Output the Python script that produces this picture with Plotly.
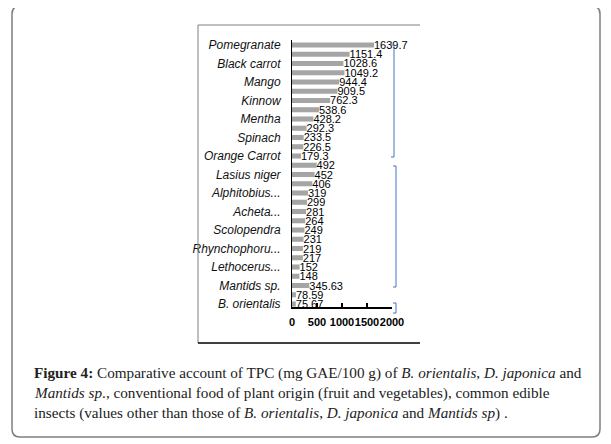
import plotly.graph_objects as go

# Top-to-bottom order; only every other label is shown in the chart
labels = ["Pomegranate", "", "Black carrot", "", "Mango", "", "Kinnow", "",
          "Mentha", "", "Spinach", "", "Orange Carrot", "", "Lasius niger", "",
          "Alphitobius...", "", "Acheta...", "", "Scolopendra", "",
          "Rhynchophoru...", "", "Lethocerus...", "", "Mantids sp.", "",
          "B. orientalis"]
values = [1639.7, 1151.4, 1028.6, 1049.2, 944.4, 909.5, 762.3, 538.6,
          428.2, 292.3, 233.5, 226.5, 179.3, 492, 452, 406,
          319, 299, 281, 264, 249, 231,
          219, 217, 152, 148, 345.63, 78.59,
          75.67]
value_text = ["1639.7", "1151.4", "1028.6", "1049.2", "944.4", "909.5", "762.3", "538.6",
              "428.2", "292.3", "233.5", "226.5", "179.3", "492", "452", "406",
              "319", "299", "281", "264", "249", "231",
              "219", "217", "152", "148", "345.63", "78.59",
              "75.67"]
x_ticks = [0, 500, 1000, 1500, 2000]

n = len(values)
ypos = [n - 1 - i for i in range(n)]

# page has an 8px body margin; figure is sized so that it fills the window
W, H = 603, 436
L, R, T, B = 284, 219, 32, 137


def px(x):  # window pixel -> paper x
    return (x - 8 - L) / (W - L - R)


def py(y):  # window pixel -> paper y
    return (H - B - (y - 8)) / (H - T - B)


narrow = "Liberation Sans Narrow, Arial Narrow, Liberation Sans, Arial"

fig = go.Figure()
fig.add_trace(go.Bar(
    x=values, y=ypos, orientation="h",
    marker=dict(color="#A5A5A5", line=dict(width=0)),
    width=0.55,
    text=value_text, textposition="outside", constraintext="none",
    cliponaxis=False,
    textfont=dict(family=narrow, size=11, color="#000000"),
    showlegend=False,
))

shapes = []
# outer rounded border
x0, x1, y0, y1, r = 12, 600, 6, 437, 8
path = (f"M {px(x0 + r)} {py(y0)} L {px(x1 - r)} {py(y0)} "
        f"Q {px(x1)} {py(y0)} {px(x1)} {py(y0 + r)} L {px(x1)} {py(y1 - r)} "
        f"Q {px(x1)} {py(y1)} {px(x1 - r)} {py(y1)} L {px(x0 + r)} {py(y1)} "
        f"Q {px(x0)} {py(y1)} {px(x0)} {py(y1 - r)} L {px(x0)} {py(y0 + r)} "
        f"Q {px(x0)} {py(y0)} {px(x0 + r)} {py(y0)} Z")
shapes.append(dict(type="path", xref="paper", yref="paper", path=path,
                   line=dict(color="#7f7f7f", width=1.5)))
# inner chart frame
shapes.append(dict(type="line", xref="paper", yref="paper", x0=px(198), x1=px(420), y0=py(25), y1=py(25),
                   line=dict(color="#808080", width=1)))
shapes.append(dict(type="line", xref="paper", yref="paper", x0=px(198), x1=px(198), y0=py(25), y1=py(343),
                   line=dict(color="#808080", width=1)))
shapes.append(dict(type="line", xref="paper", yref="paper", x0=px(198), x1=px(420), y0=py(343), y1=py(343),
                   line=dict(color="#000000", width=1.5)))
# brackets
for bx, by0, by1 in [(394, 45, 157), (396, 166, 287), (396, 303, 313)]:
    p = (f"M {px(bx - 3)} {py(by0)} L {px(bx)} {py(by0)} L {px(bx)} {py(by1)} L {px(bx - 3)} {py(by1)}")
    shapes.append(dict(type="path", xref="paper", yref="paper", path=p,
                       line=dict(color="#4472C4", width=1)))

cap_font = dict(family="Liberation Serif, Times New Roman, serif", size=15.2, color="#222222")
caption = [
    "<b>Figure 4:</b> Comparative account of TPC (mg GAE/100 g) of <i>B. orientalis</i>, <i>D. japonica</i> and",
    "<i>Mantids sp</i>., conventional food of plant origin (fruit and vegetables), common edible",
    "insects (values other than those of <i>B. orientalis</i>, <i>D. japonica</i> and <i>Mantids sp</i>) .",
]
annotations = []
for i, line in enumerate(caption):
    annotations.append(dict(xref="paper", yref="paper", x=px(32), y=py(373 + 20 * i),
                            xanchor="left", yanchor="middle", text=line, showarrow=False,
                            font=cap_font, align="left"))

fig.update_layout(
    width=W, height=H, autosize=False,
    margin=dict(l=L, r=R, t=T, b=B, pad=0),
    paper_bgcolor="white", plot_bgcolor="white",
    shapes=shapes, annotations=annotations,
    xaxis=dict(range=[0, 2000], tickvals=x_ticks, ticktext=[f"<b>{v}</b>" for v in x_ticks],
               tickangle=0, ticks="inside", ticklen=4, tickwidth=1.5, tickcolor="#000",
               showline=True, linecolor="#000", linewidth=2, showgrid=False, zeroline=False,
               ticklabelstandoff=4,
               tickfont=dict(family=narrow, size=11, color="#000")),
    yaxis=dict(range=[-0.324, 28.54],
               tickvals=[ypos[i] for i, l in enumerate(labels) if l],
               ticktext=[f"<i>{l}</i>" for l in labels if l],
               ticks="", showline=True, linecolor="#000", linewidth=1, showgrid=False, zeroline=False,
               ticklabelstandoff=8,
               tickfont=dict(family="Liberation Sans, Arial", size=12, color="#111")),
)

fig.write_html("out.html")
